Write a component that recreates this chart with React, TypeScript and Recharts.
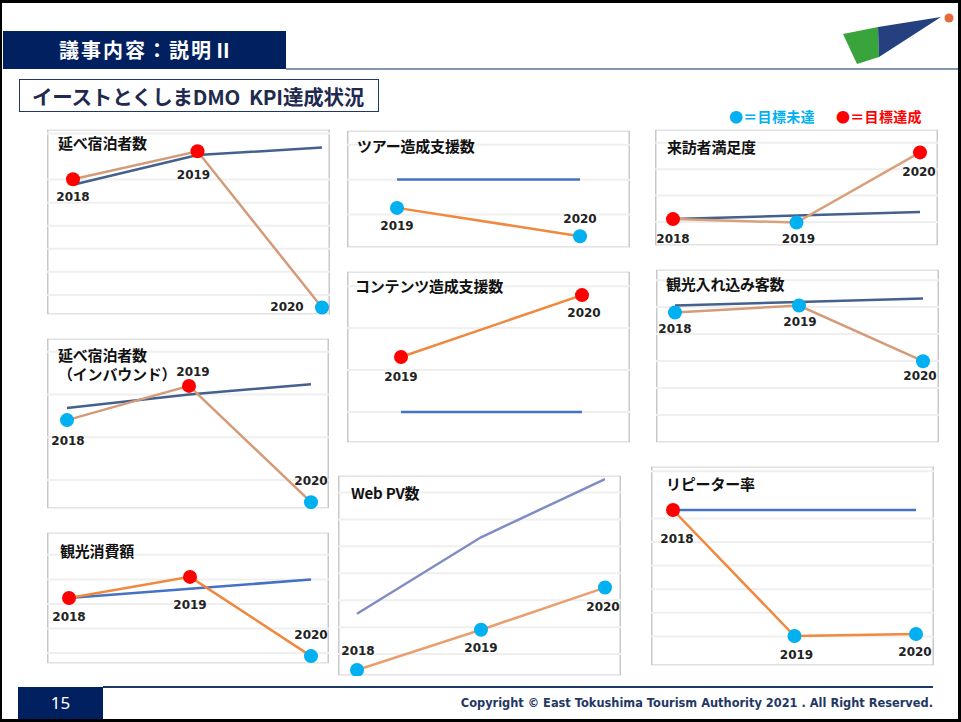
import React from 'react';
import { LineChart, Line, XAxis, YAxis, CartesianGrid, LabelList } from 'recharts';

// values are index points (0-100 of each panel's height)
const years3 = [2018, 2019, 2020];
const years2 = [2019, 2020];

const stayTarget = [70, 86, 90];
const stayActual = [73, 88, 4];
const tourTarget = [58, 58];
const tourActual = [34, 10];
const satisfactionTarget = [23, 26, 29];
const satisfactionActual = [23, 20, 80];
const contentTarget = [18, 18];
const contentActual = [50, 86];
const visitorsTarget = [79, 81, 83];
const visitorsActual = [75, 79, 47];
const inboundTarget = [59, 67, 73];
const inboundActual = [52, 72, 4];
const spendTarget = [50, 57, 64];
const spendActual = [50, 66, 6];
const webTarget = [31, 69, 98];
const webActual = [3, 23, 44];
const repeatTarget = [78, 78, 78];
const repeatActual = [78, 15, 16];

const NAVY = '#002060';
const HIT = '#ff0000';
const MISS = '#00b0f0';
const FONT = '"Noto Sans CJK JP", "Noto Sans", sans-serif';

type Panel = {
  title: string[];
  years: number[];
  target: number[];
  actual: number[];
  x: number; y: number; w: number; h: number;
  padL: number; padR: number;
  tx: number; ty: number;
  labels: [number, number][];
  grid: [number, number];
  targetColor: string;
  actualColor: string;
};

const panels: Panel[] = [
  {
    title: ['延べ宿泊者数'], years: years3, target: stayTarget, actual: stayActual,
    x: 47, y: 129, w: 283, h: 186, padL: 26, padR: 8, tx: 11, ty: 14,
    labels: [[0, 18], [-4, 24], [-35, -1]], grid: [10.8, 12.4],
    targetColor: '#44618e', actualColor: '#d49b78',
  },
  {
    title: ['ツアー造成支援数'], years: years2, target: tourTarget, actual: tourActual,
    x: 347, y: 130, w: 283, h: 118, padL: 50, padR: 50, tx: 10, ty: 16,
    labels: [[0, 18], [0, -17]], grid: [28.4, 29.5],
    targetColor: '#4472c4', actualColor: '#f0883e',
  },
  {
    title: ['来訪者満足度'], years: years3, target: satisfactionTarget, actual: satisfactionActual,
    x: 655, y: 129, w: 283, h: 117, padL: 18, padR: 18, tx: 12, ty: 18,
    labels: [[0, 20], [2, 16], [-1, 20]], grid: [20.5, 22.6],
    targetColor: '#44618e', actualColor: '#d9a07a',
  },
  {
    title: ['コンテンツ造成支援数'], years: years2, target: contentTarget, actual: contentActual,
    x: 347, y: 271, w: 283, h: 172, padL: 54, padR: 48, tx: 8, ty: 15,
    labels: [[0, 20], [2, 18]], grid: [5.8, 12.2],
    targetColor: '#4472c4', actualColor: '#f0883e',
  },
  {
    title: ['観光入れ込み客数'], years: years3, target: visitorsTarget, actual: visitorsActual,
    x: 656, y: 269, w: 283, h: 174, padL: 19, padR: 16, tx: 10, ty: 15,
    labels: [[0, 16], [1, 16], [-3, 15]], grid: [16.1, 15.5],
    targetColor: '#44618e', actualColor: '#d49b78',
  },
  {
    title: ['延べ宿泊者数', '（インバウンド）'], years: years3, target: inboundTarget, actual: inboundActual,
    x: 47, y: 338, w: 282, h: 171, padL: 20, padR: 18, tx: 11, ty: 17,
    labels: [[1, 21], [4, -14], [0, -21]], grid: [17, 25],
    targetColor: '#44618e', actualColor: '#d49b78',
  },
  {
    title: ['観光消費額'], years: years3, target: spendTarget, actual: spendActual,
    x: 47, y: 532, w: 282, h: 132, padL: 22, padR: 18, tx: 13, ty: 19,
    labels: [[0, 19], [0, 28], [0, -21]], grid: [8.3, 18.6],
    targetColor: '#4472c4', actualColor: '#f0883e',
  },
  {
    title: ['Web PV数'], years: years3, target: webTarget, actual: webActual,
    x: 338, y: 475, w: 283, h: 201, padL: 19, padR: 16, tx: 13, ty: 18,
    labels: [[1, -19], [0, 18], [-2, 19]], grid: [10.9, 13.4],
    targetColor: '#7f8dc4', actualColor: '#e8a070',
  },
  {
    title: ['リピーター率'], years: years3, target: repeatTarget, actual: repeatActual,
    x: 651, y: 466, w: 283, h: 200, padL: 22, padR: 18, tx: 15, ty: 18,
    labels: [[4, 29], [2, 19], [-1, 18]], grid: [3, 11.8],
    targetColor: '#4472c4', actualColor: '#f0883e',
  },
];

function KpiPanel({ p }: { p: Panel }) {
  const data = p.years.map((year, i) => ({
    year,
    target: p.target[i],
    actual: p.actual[i],
    achieved: p.actual[i] >= p.target[i],
  }));
  const ticks: number[] = [];
  for (let v = p.grid[0]; v < 100; v += p.grid[1]) ticks.push(v);

  const renderDot = (props: any) => {
    const { cx, cy, payload, index } = props;
    return <circle key={'d' + index} cx={cx} cy={cy} r={7} fill={payload.achieved ? HIT : MISS} />;
  };

  const renderLabel = (props: any) => {
    const { x, y, value, index } = props;
    const off = p.labels[index] || [0, 18];
    return (
      <text
        key={'l' + index}
        x={x + off[0]}
        y={y + off[1]}
        textAnchor="middle"
        dominantBaseline="central"
        fontSize={12}
        fontWeight={700}
        fontFamily='"DejaVu Sans", sans-serif'
        fill="#222"
      >
        {value}
      </text>
    );
  };

  return (
    <div
      style={{
        position: 'absolute', left: p.x, top: p.y, width: p.w, height: p.h,
        background: '#fff', boxShadow: 'inset 0 0 0 1.5px #c8c8c8',
      }}
    >
      <div style={{ position: 'absolute', left: 0, top: 0 }}>
        <LineChart width={p.w} height={p.h} data={data} margin={{ top: 0, right: 0, bottom: 0, left: 0 }}>
          <CartesianGrid horizontal vertical={false} stroke="#efefef" strokeWidth={2} />
          <XAxis
            dataKey="year"
            type="number"
            domain={[p.years[0], p.years[p.years.length - 1]]}
            padding={{ left: p.padL, right: p.padR }}
            hide
          />
          <YAxis type="number" domain={[0, 100]} ticks={ticks} hide />
          <Line dataKey="target" stroke={p.targetColor} strokeWidth={2.5} dot={false} isAnimationActive={false} />
          <Line dataKey="actual" stroke={p.actualColor} strokeWidth={2.5} dot={renderDot} activeDot={false} isAnimationActive={false}>
            <LabelList dataKey="year" content={renderLabel} />
          </Line>
        </LineChart>
      </div>
      {p.title.map((t, i) => (
        <div
          key={t}
          style={{
            position: 'absolute', left: p.tx, top: p.ty + i * 19 - 11, height: 22, lineHeight: '22px',
            fontSize: 15, fontWeight: 700, color: '#111', whiteSpace: 'nowrap', letterSpacing: -0.2,
          }}
        >
          {t}
        </div>
      ))}
    </div>
  );
}

export default function App() {
  return (
    <div
      style={{
        position: 'absolute', left: 0, top: 0, width: 961, height: 722,
        background: '#fff', overflow: 'hidden', fontFamily: FONT,
      }}
    >
      {/* header */}
      <div style={{ position: 'absolute', left: 3, top: 31, width: 283, height: 38, background: NAVY }} />
      <div
        style={{
          position: 'absolute', left: 59, top: 35, height: 30, lineHeight: '30px',
          fontSize: 20, fontWeight: 700, color: '#fff', whiteSpace: 'nowrap', letterSpacing: 2,
        }}
      >
        議事内容：説明Ⅱ
      </div>
      <div style={{ position: 'absolute', left: 286, top: 67.5, width: 675, height: 2, background: '#8497b0' }} />
      <svg style={{ position: 'absolute', left: 0, top: 0 }} width={961} height={80}>
        <polygon points="843,34 878,27 879,57 857,64" fill="#3aa43c" />
        <polygon points="878,27 941,17 879,57" fill="#24407e" />
        <circle cx={949} cy={18} r={4.5} fill="#e46a3c" />
      </svg>

      <div
        style={{
          position: 'absolute', left: 19, top: 79, width: 360, height: 33, boxSizing: 'border-box',
          border: '1.5px solid #1f3864', background: '#fff',
        }}
      />
      <div
        style={{
          position: 'absolute', left: 32, top: 81, height: 30, lineHeight: '30px',
          fontSize: 20.5, fontWeight: 700, color: '#1f2a4f', whiteSpace: 'nowrap', letterSpacing: -0.2,
        }}
      >
        イーストとくしまDMO&nbsp;&nbsp;KPI達成状況
      </div>

      <div style={{ position: 'absolute', left: 729, top: 106, lineHeight: '20px', fontSize: 14, fontWeight: 700, color: MISS, whiteSpace: 'nowrap', letterSpacing: 0.3 }}>
        ●＝目標未達
      </div>
      <div style={{ position: 'absolute', left: 836, top: 106, lineHeight: '20px', fontSize: 14, fontWeight: 700, color: HIT, whiteSpace: 'nowrap', letterSpacing: 0.3 }}>
        ●＝目標達成
      </div>

      {panels.map((p) => (
        <KpiPanel key={p.title.join('')} p={p} />
      ))}

      {/* footer */}
      <div style={{ position: 'absolute', left: 18, top: 687, width: 85, height: 32, background: NAVY }} />
      <div
        style={{
          position: 'absolute', left: 18, top: 687, width: 85, height: 32, lineHeight: '32px',
          textAlign: 'center', color: '#fff', fontSize: 17, fontFamily: '"Noto Sans", sans-serif',
        }}
      >
        15
      </div>
      <div style={{ position: 'absolute', left: 103, top: 686, width: 830, height: 1.5, background: '#1f3864' }} />
      <div
        style={{
          position: 'absolute', right: 28, top: 694, lineHeight: '18px', fontSize: 11.4, fontWeight: 700,
          color: '#1f3864', whiteSpace: 'nowrap', fontFamily: '"DejaVu Sans", sans-serif',
        }}
      >
        Copyright © East Tokushima Tourism Authority 2021 . All Right Reserved.
      </div>

      {/* slide frame */}
      <div
        style={{
          position: 'absolute', left: 0, top: 0, width: 961, height: 722, boxSizing: 'border-box',
          borderTop: '3px solid #000', borderLeft: '2px solid #000', borderRight: '3px solid #000',
          borderBottom: '3px solid #000', pointerEvents: 'none',
        }}
      />
    </div>
  );
}
